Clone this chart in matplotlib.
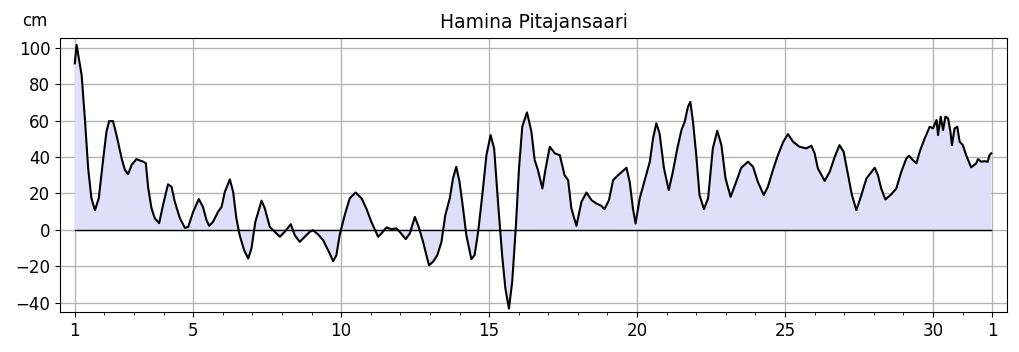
import matplotlib
matplotlib.use("Agg")
import matplotlib.pyplot as plt
from matplotlib.ticker import MultipleLocator

# Sea level, day of month (decimal) vs. cm
days = [1.00, 1.06, 1.23, 1.34, 1.45, 1.56, 1.68, 1.81, 1.96, 2.07, 2.16, 2.29,
        2.41, 2.58, 2.69, 2.80, 2.92, 3.08, 3.31, 3.40, 3.48, 3.59, 3.70, 3.85,
        3.98, 4.15, 4.27, 4.38, 4.55, 4.72, 4.83, 5.00, 5.19, 5.33, 5.45, 5.54,
        5.67, 5.84, 5.96, 6.07, 6.24, 6.35, 6.46, 6.57, 6.72, 6.86, 6.97, 7.10,
        7.31, 7.42, 7.59, 7.76, 7.93, 8.09, 8.30, 8.43, 8.60, 8.77, 8.94, 9.05,
        9.22, 9.39, 9.56, 9.73, 9.84, 9.95, 10.12, 10.29, 10.49, 10.69, 10.85, 11.02,
        11.25, 11.36, 11.53, 11.70, 11.87, 11.98, 12.18, 12.32, 12.49, 12.62, 12.77, 12.88,
        12.97, 13.10, 13.25, 13.39, 13.52, 13.67, 13.78, 13.89, 14.00, 14.12, 14.23, 14.40,
        14.51, 14.63, 14.77, 14.91, 15.05, 15.17, 15.30, 15.44, 15.55, 15.67, 15.78, 15.90,
        16.01, 16.12, 16.28, 16.43, 16.54, 16.65, 16.80, 16.91, 17.05, 17.22, 17.39, 17.55,
        17.67, 17.78, 17.95, 18.12, 18.29, 18.46, 18.62, 18.79, 18.90, 19.05, 19.19, 19.36,
        19.64, 19.75, 19.86, 19.95, 20.09, 20.26, 20.43, 20.54, 20.65, 20.76, 20.91, 21.07,
        21.21, 21.36, 21.50, 21.61, 21.72, 21.80, 21.89, 22.00, 22.11, 22.26, 22.40, 22.56,
        22.71, 22.85, 22.99, 23.16, 23.35, 23.52, 23.75, 23.92, 24.08, 24.28, 24.42, 24.59,
        24.76, 24.93, 25.10, 25.27, 25.49, 25.72, 25.89, 26.00, 26.11, 26.34, 26.51, 26.68,
        26.84, 26.98, 27.13, 27.26, 27.41, 27.58, 27.75, 28.03, 28.14, 28.25, 28.39, 28.59,
        28.76, 28.93, 29.10, 29.19, 29.32, 29.44, 29.55, 29.72, 29.89, 30.00, 30.12, 30.17,
        30.26, 30.34, 30.42, 30.51, 30.59, 30.64, 30.73, 30.82, 30.90, 31.01, 31.12, 31.29,
        31.46, 31.52, 31.63, 31.74, 31.85, 31.91, 31.97]
level = [91.4, 101.5, 85.0, 61.0, 34.0, 17.4, 10.8, 17.4, 39.0, 54.0, 59.7, 59.7,
         52.0, 39.4, 33.0, 30.6, 35.6, 38.8, 37.4, 36.6, 23.0, 12.0, 6.4, 3.7,
         13.6, 25.0, 23.6, 15.4, 6.4, 1.1, 1.6, 9.9, 16.9, 12.6, 5.3, 2.2,
         4.4, 9.9, 12.6, 20.9, 27.7, 20.9, 6.3, -2.9, -11.2, -15.7, -10.2, 4.4,
         16.0, 11.8, 1.6, -1.1, -3.8, -1.1, 3.1, -2.9, -6.6, -3.8, -1.1, -0.2,
         -2.5, -5.7, -11.2, -17.2, -13.9, -2.9, 8.1, 17.3, 20.5, 17.3, 11.8, 4.4,
         -3.8, -2.0, 1.3, 0.4, 0.8, -1.1, -5.1, -2.0, 7.1, 1.6, -6.6, -13.9,
         -19.4, -17.6, -13.9, -6.6, 8.1, 17.3, 28.2, 34.6, 26.4, 11.8, -2.9, -16.1,
         -13.9, -1.1, 19.1, 41.0, 52.0, 44.7, 15.4, -13.9, -32.2, -43.2, -28.6, 0.8,
         33.7, 56.6, 64.5, 53.8, 38.3, 32.8, 22.7, 33.7, 45.6, 42.0, 41.0, 30.0,
         27.3, 11.8, 2.2, 15.4, 20.5, 16.3, 14.5, 13.2, 11.4, 16.3, 27.3, 30.0,
         34.1, 26.4, 11.8, 3.5, 17.3, 27.3, 37.4, 50.2, 58.5, 53.0, 33.7, 21.8,
         31.9, 44.7, 54.8, 59.3, 67.6, 70.3, 59.3, 41.0, 19.1, 11.4, 17.3, 44.7,
         54.4, 46.5, 28.2, 18.1, 26.4, 34.1, 37.4, 34.6, 26.4, 19.1, 23.6, 32.8,
         41.0, 48.0, 52.6, 48.4, 45.6, 44.7, 46.2, 42.0, 33.7, 26.9, 31.9, 40.1,
         46.5, 42.9, 30.0, 19.1, 10.8, 19.1, 28.2, 34.1, 30.0, 22.7, 16.7, 19.5,
         22.7, 31.9, 39.2, 40.7, 38.3, 36.5, 42.9, 50.2, 56.6, 55.7, 60.3, 52.0,
         62.1, 54.8, 62.1, 61.2, 53.8, 46.5, 55.7, 56.6, 48.4, 46.5, 41.0, 34.3,
         36.5, 38.8, 37.4, 37.7, 37.4, 41.0, 42.0]

major_ticks = [1, 5, 10, 15, 20, 25, 30, 32]
major_labels = ['1', '5', '10', '15', '20', '25', '30', '1']
y_ticks = [-40, -20, 0, 20, 40, 60, 80, 100]

fig = plt.figure(figsize=(10.19, 3.52), dpi=100)
ax = fig.add_axes([0.0589, 0.1136, 0.9293, 0.7784])

ax.fill_between(days, level, 0, facecolor='#dfdff9', edgecolor='none', zorder=1)
ax.plot([days[0], days[-1]], [0, 0], color='black', lw=1.0, zorder=2)
ax.plot(days, level, color='black', lw=1.5, zorder=3)

ax.set_xlim(0.5, 32.5)
ax.set_ylim(-45.1, 105.3)
ax.set_xticks(major_ticks)
ax.set_xticklabels(major_labels)
ax.xaxis.set_minor_locator(MultipleLocator(1))
ax.set_yticks(y_ticks)
ax.grid(True, which='major', color='#b4b4b4', lw=1.0)
ax.set_axisbelow(True)
ax.tick_params(labelsize=12)

ax.set_title('Hamina Pitajansaari', fontsize=13.5, pad=7)
ax.text(-0.027, 1.03, 'cm', transform=ax.transAxes, fontsize=12, ha='center', va='bottom')

fig.savefig('out.png', dpi=100)
